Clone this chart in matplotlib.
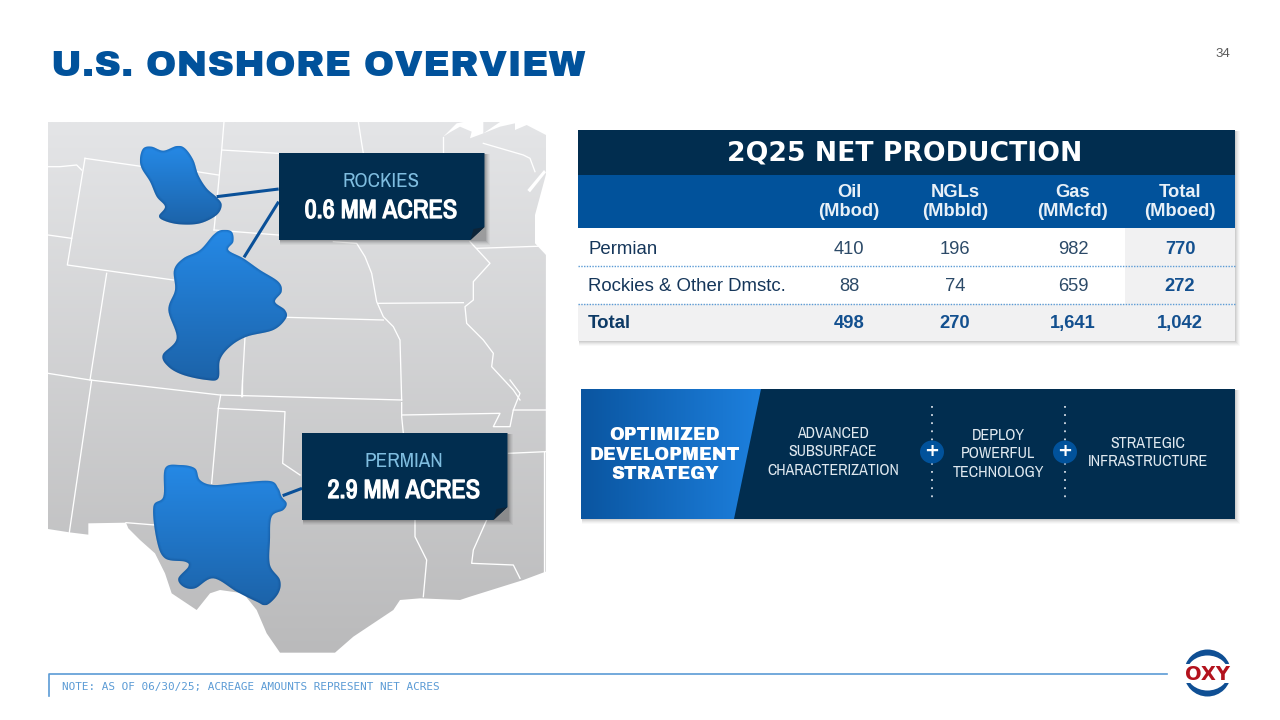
import numpy as np
import matplotlib
matplotlib.use("Agg")
import matplotlib.pyplot as plt
import matplotlib.patheffects as pe
from matplotlib import font_manager as fm
from matplotlib.patches import Polygon, Rectangle, Circle, Ellipse
from matplotlib.colors import LinearSegmentedColormap

# ---------- content ----------
TITLE = "U.S. ONSHORE OVERVIEW"
PAGE = "34"
NOTE = "NOTE: AS OF 06/30/25; ACREAGE AMOUNTS REPRESENT NET ACRES"
TABLE_TITLE = "2Q25 NET PRODUCTION"
COLUMNS = ["Oil\n(Mbod)", "NGLs\n(Mbbld)", "Gas\n(MMcfd)", "Total\n(Mboed)"]
ROWS = ["Permian", "Rockies & Other Dmstc.", "Total"]
OIL = ["410", "88", "498"]
NGLS = ["196", "74", "270"]
GAS = ["982", "659", "1,641"]
TOTAL = ["770", "272", "1,042"]
STRATEGY = ["ADVANCED\nSUBSURFACE\nCHARACTERIZATION", "DEPLOY\nPOWERFUL\nTECHNOLOGY", "STRATEGIC\nINFRASTRUCTURE"]

# ---------- map outlines (zoom-crop coordinates) ----------
Z1 = (40, 110)
Z2 = (40, 380)
Z3 = (420, 115)
ROCKIES_N = [(310,115),(335,110),(370,122),(410,108),(435,115),(460,150),(475,195),(500,235),(530,262),(545,285),(530,315),(480,340),(420,343),(375,333),(357,318),(375,290),(350,260),(330,215),(305,175),(300,145)]
ROCKIES_S = [(545,360),(575,365),(580,395),(565,420),(610,445),(660,480),(715,515),(725,545),(705,575),(735,600),(738,625),(700,660),(620,680),(570,710),(540,750),(535,805),(500,810),(430,795),(385,770),(368,735),(410,685),(385,600),(405,540),(402,480),(430,445),(480,420),(520,375)]
PERMIAN = [(375,265),(420,255),(465,265),(480,300),(520,315),(600,308),(690,303),(715,325),(725,350),(740,370),(730,390),(695,410),(690,480),(690,555),(720,600),(715,640),(680,675),(650,665),(590,635),(520,595),(465,625),(430,620),(415,595),(445,560),(435,545),(375,535),(350,480),(340,380),(370,350)]
LAND_BOTTOM = [(24,447),(88,457),(145,464),(145,430),(258,428),(265,445),(300,480),(345,520),(375,580),(395,640),(470,690),(510,640),(540,630),(610,640),(650,690),(680,760),(720,818),(885,818),(940,770),(1060,690),(1080,660),(1140,655),(1260,660),(1290,650),(1450,600),(1517,575)]
BORDERS_Z1 = [
 [(552,35),(545,120),(530,280),(522,360)],
 [(545,120),(715,130)],
 [(470,185),(535,195)],
 [(955,35),(965,100),(970,130)],
 [(135,145),(310,170)],
 [(135,145),(82,465),(400,510)],
 [(24,170),(60,170),(110,165),(125,180)],
 [(24,375),(95,385)],
 [(200,490),(150,810)],
 [(522,360),(715,375)],
 [(880,395),(950,400),(975,440),(995,490),(1010,575),(1030,620),(1060,650),(1080,690),(1085,870)],
 [(740,622),(1030,630)],
 [(615,680),(605,860)],
 [(1015,580),(1270,578)],
 [(1290,395),(1350,460),(1300,515),(1300,570),(1275,590),(1280,640),(1330,690),(1360,730),(1355,770),(1420,840),(1440,870)],
 [(1310,415),(1517,408)],
 [(24,790),(150,810),(540,855),(1085,870)],
]
BORDERS_Z2 = [
 [(155,0),(88,457)],
 [(542,45),(535,85),(515,310)],
 [(605,0),(605,48)],
 [(535,85),(735,95),(728,250),(780,285)],
 [(1085,68),(1085,110),(1090,160)],
 [(1085,105),(1380,100),(1360,140),(1410,140),(1420,90),(1517,90)],
 [(1410,0),(1440,40),(1420,90)],
 [(1405,220),(1517,215)],
 [(1125,420),(1125,470),(1160,540),(1150,650)],
 [(1340,420),(1300,510),(1295,550),(1420,555),(1440,595)],
 [(1513,215),(1513,575)],
 [(258,428),(345,435)],
]
BORDERS_Z3 = [
 [(70,65),(70,110)],
 [(190,85),(310,120),(330,130),(345,170)],
]
LAKES_Z3 = [
 [(70,65),(110,25),(130,21),(190,21),(190,55),(150,70),(155,50),(120,35),(90,52)],
 [(190,55),(240,21),(378,21),(378,60),(320,30),(285,45),(285,25),(240,35)],
 [(322,225),(372,165),(378,172),(330,232)],
 [(378,178),(345,300),(345,385),(378,420)],
]

NAVY = "#012d4f"
BLUE = "#01529b"
TEXT_BLUE = "#13508f"
LIGHT = "#7fbde0"
SANS = ["Liberation Sans"]

available = {f.name for f in fm.fontManager.ttflist}


def pick(cands):
    for c in cands:
        if c in available:
            return [c]
    return ["DejaVu Sans"]


NARROW = pick(["Liberation Sans Narrow", "Arimo Narrow", "Archivo Narrow", "PT Sans Narrow", "Roboto Condensed", "Sofia Sans Condensed", "Roboto"])
HEAVY = pick(["Arial Black", "Archivo Black", "Roboto Black", "DejaVu Sans"])


def conv(pts, origin):
    a = np.array(pts, float)
    return np.c_[a[:, 0] / 3 + origin[0], a[:, 1] / 3 + origin[1]]


def smooth(p, n=10):
    out = []
    m = len(p)
    for i in range(m):
        p0, p1, p2, p3 = p[i - 1], p[i], p[(i + 1) % m], p[(i + 2) % m]
        for t in np.linspace(0, 1, n, endpoint=False):
            out.append(0.5 * (2 * p1 + (p2 - p0) * t + (2 * p0 - 5 * p1 + 4 * p2 - p3) * t ** 2 + (3 * p1 - p0 - 3 * p2 + p3) * t ** 3))
    return np.array(out)


fig = plt.figure(figsize=(12.8, 7.2), dpi=100, facecolor="white")
ax = fig.add_axes([0, 0, 1, 1])
ax.axis("off")
renderer = fig.canvas.get_renderer()


def fit(txt, width):
    w = txt.get_window_extent(renderer).width
    txt.set_fontsize(txt.get_fontsize() * width / w)
    return txt


def gradient(extent, c0, c1, clip, horizontal=False, z=1):
    cmap = LinearSegmentedColormap.from_list("g", [c0, c1])
    g = np.linspace(0, 1, 256).reshape(-1, 1)
    if horizontal:
        g = g.T
    im = ax.imshow(g, extent=extent, cmap=cmap, aspect="auto", zorder=z, interpolation="bilinear")
    im.set_clip_path(clip)


def shadow(x, y, w, h, z, k=1.0):
    for d, a in [(5, .025), (4, .03), (3, .04), (2, .05), (1, .06)]:
        ax.add_patch(Rectangle((x + 1, y + 1), w + d - 1, h + d - 1, fc="black", ec="none", alpha=a * k, zorder=z))


# --- map ---
land = np.vstack([[(48, 122)], conv(LAND_BOTTOM, Z2), [(546, 122)]])
land_patch = Polygon(land, closed=True, fc="none", ec="none", transform=ax.transData)
ax.add_patch(land_patch)
gradient((48, 546, 654, 122), "#e4e5e7", "#bababb", land_patch)
for group, o in [(BORDERS_Z1, Z1), (BORDERS_Z2, Z2), (BORDERS_Z3, Z3)]:
    for b in group:
        p = conv(b, o)
        ax.plot(p[:, 0], p[:, 1], color="white", lw=0.95, zorder=2, solid_joinstyle="round")
for l in LAKES_Z3:
    ax.add_patch(Polygon(conv(l, Z3), closed=True, fc="white", ec="none", zorder=2))

# leaders
for a, b, o in [((530, 260), (716, 237), Z1), ((612, 442), (716, 275), Z1), ((728, 347), (786, 325), Z2)]:
    p = conv([a, b], o)
    ax.plot(p[:, 0], p[:, 1], color="#0a5098", lw=2.2, zorder=3, solid_capstyle="butt")

# basins
for pts, o in [(ROCKIES_N, Z1), (ROCKIES_S, Z1), (PERMIAN, Z2)]:
    s = smooth(conv(pts, o))
    patch = Polygon(s, closed=True, fc="none", ec="none", transform=ax.transData)
    ax.add_patch(patch)
    ext = (s[:, 0].min(), s[:, 0].max(), s[:, 1].max(), s[:, 1].min())
    gradient(ext, "#2589e6", "#1c63a9", patch, z=4)
    for lw, a in [(4, .06), (2.8, .09), (1.6, .14)]:
        edge = Polygon(s, closed=True, fc="none", ec="#0e3f78", lw=lw, alpha=a, zorder=5)
        ax.add_patch(edge)
        edge.set_clip_path(patch)

# callouts
for x, y, label, value, lw in [(279, 153, "ROCKIES", "0.6 MM ACRES", 77), (302, 433, "PERMIAN", "2.9 MM ACRES", 79)]:
    w, h = 205.5, 87
    shadow(x, y, w, h, 6, 1.6)
    ax.add_patch(Polygon([(x, y), (x + w, y), (x + w, y + h - 13), (x + w - 14, y + h), (x, y + h)], closed=True, fc=NAVY, ec="none", zorder=7))
    ax.add_patch(Polygon([(x + w, y + h - 13), (x + w - 14, y + h), (x + w - 11, y + h - 11)], closed=True, fc="#0d2438", ec="none", zorder=8))
    t = ax.text(x + w / 2 - 1, y + 34, label, color=LIGHT, fontsize=15, family=NARROW, ha="center", va="baseline", zorder=9)
    fit(t, lw)
    t = ax.text(x + w / 2 - 1, y + 65, value, color="white", fontsize=20, family=NARROW, weight="bold", ha="center", va="baseline", zorder=9,
                path_effects=[pe.withStroke(linewidth=0.9, foreground="white")])
    fit(t, 153)

# --- title / page ---
t = ax.text(51, 76, TITLE, color="#01529b", fontsize=26, family=HEAVY, weight="black", ha="left", va="baseline")
fit(t, 534)
ax.text(1223, 54, PAGE, color="#595959", fontsize=9.5, family="Liberation Sans", ha="center", va="center")

# --- table ---
TX0, TX1 = 578, 1235
shadow(TX0, 130, TX1 - TX0, 211, 1, 1.0)
ax.add_patch(Rectangle((TX0, 130), TX1 - TX0, 211, fc="white", ec="none", zorder=2))
ax.add_patch(Rectangle((TX0, 130), TX1 - TX0, 45, fc=NAVY, ec="none", zorder=3))
ax.add_patch(Rectangle((TX0, 175), TX1 - TX0, 53, fc=BLUE, ec="none", zorder=3))
ax.add_patch(Rectangle((1125, 228), TX1 - 1125, 76, fc="#f1f1f2", ec="none", zorder=3))
ax.add_patch(Rectangle((TX0, 304), TX1 - TX0, 37, fc="#f1f1f2", ec="none", zorder=3))
t = ax.text(905, 153, TABLE_TITLE, color="white", fontsize=17, family="DejaVu Sans", weight="bold", ha="center", va="center", zorder=5)
fit(t, 354)
col_x = [849, 955, 1073, 1180]
for cx, c in zip(col_x, COLUMNS):
    ax.text(cx, 202, c, color="#e8f0f7", fontsize=13.2, family=SANS, weight="bold", ha="center", va="center", linespacing=1.2, zorder=5)
row_y = [254, 291, 328]
for i, (ry, r) in enumerate(zip(row_y, ROWS)):
    is_total = i == len(ROWS) - 1
    ax.text(588, ry, r, color="#15365a" if not is_total else "#0d3a66", fontsize=13.4, family=SANS, weight="bold" if is_total else "normal", ha="left", va="baseline", zorder=5)
    for j, (cx, col) in enumerate(zip(col_x, [OIL, NGLS, GAS, TOTAL])):
        bold = is_total or j == 3
        ax.text(cx, ry, col[i], color=TEXT_BLUE if bold else "#2c4a68", fontsize=13.2, family=SANS, weight="bold" if bold else "normal", ha="center", va="baseline", zorder=5)
for y in [266, 303.5]:
    ax.plot([TX0, TX1], [y, y], color="#5b9bd5", lw=1.0, ls=(0, (1, 1)), zorder=6)

# --- strategy banner ---
BX0, BX1, BY0, BY1 = 581, 1235, 389, 519
shadow(BX0, BY0, BX1 - BX0, BY1 - BY0, 1, 1.0)
ax.add_patch(Rectangle((BX0, BY0), BX1 - BX0, BY1 - BY0, fc=NAVY, ec="none", zorder=2))
lead = Polygon([(BX0, BY0), (761, BY0), (734, BY1), (BX0, BY1)], closed=True, fc="none", ec="none", transform=ax.transData)
ax.add_patch(lead)
gradient((BX0, 761, BY1, BY0), "#0a55a0", "#1d80de", lead, horizontal=True, z=3)
t = ax.text(665, 455, "OPTIMIZED\nDEVELOPMENT\nSTRATEGY", color="white", fontsize=11, family=HEAVY, weight="black", ha="center", va="center", linespacing=1.2, zorder=5)
fit(t, 150)
for cx, cy, s, w in zip([833, 998, 1148], [452, 454, 452.5], STRATEGY, [132, 92, 120]):
    t = ax.text(cx, cy, s, color="#dfe8ef", fontsize=12, family=NARROW, ha="center", va="center", linespacing=1.33, zorder=5)
    fit(t, w)
for cx in [932, 1065]:
    ax.plot([cx, cx], [406, 500], color="#d5dde5", lw=1.3, ls=(0, (1, 3.5)), zorder=4)
    ax.add_patch(Ellipse((cx, 452), 24, 23, fc=BLUE, ec="none", zorder=5))
    ax.text(cx, 451.5, "+", color="white", fontsize=13, family="DejaVu Sans", weight="bold", ha="center", va="center", zorder=6)

# --- footer ---
ax.plot([49, 49, 1167], [696, 674, 674], color="#5b9bd5", lw=1.2, zorder=2)
ax.text(62, 687, NOTE, color="#5b9bd5", fontsize=7.93, family="DejaVu Sans Mono", ha="left", va="center")

# --- logo ---
ax.add_patch(Circle((1207.5, 673), 23.5, fc="#0f4f94", ec="none", zorder=2))
ax.add_patch(Ellipse((1207.5, 673), 42, 35, fc="white", ec="none", zorder=3))
ax.add_patch(Rectangle((1180, 664), 55, 19, fc="white", ec="none", zorder=4))
t = ax.text(1207.5, 674, "OXY", color="#b3121d", fontsize=12.5, family="DejaVu Sans", weight="bold", ha="center", va="center", zorder=5)
fit(t, 45)

ax.set_xlim(0, 1280)
ax.set_ylim(720, 0)
fig.savefig("out.png", dpi=100)
